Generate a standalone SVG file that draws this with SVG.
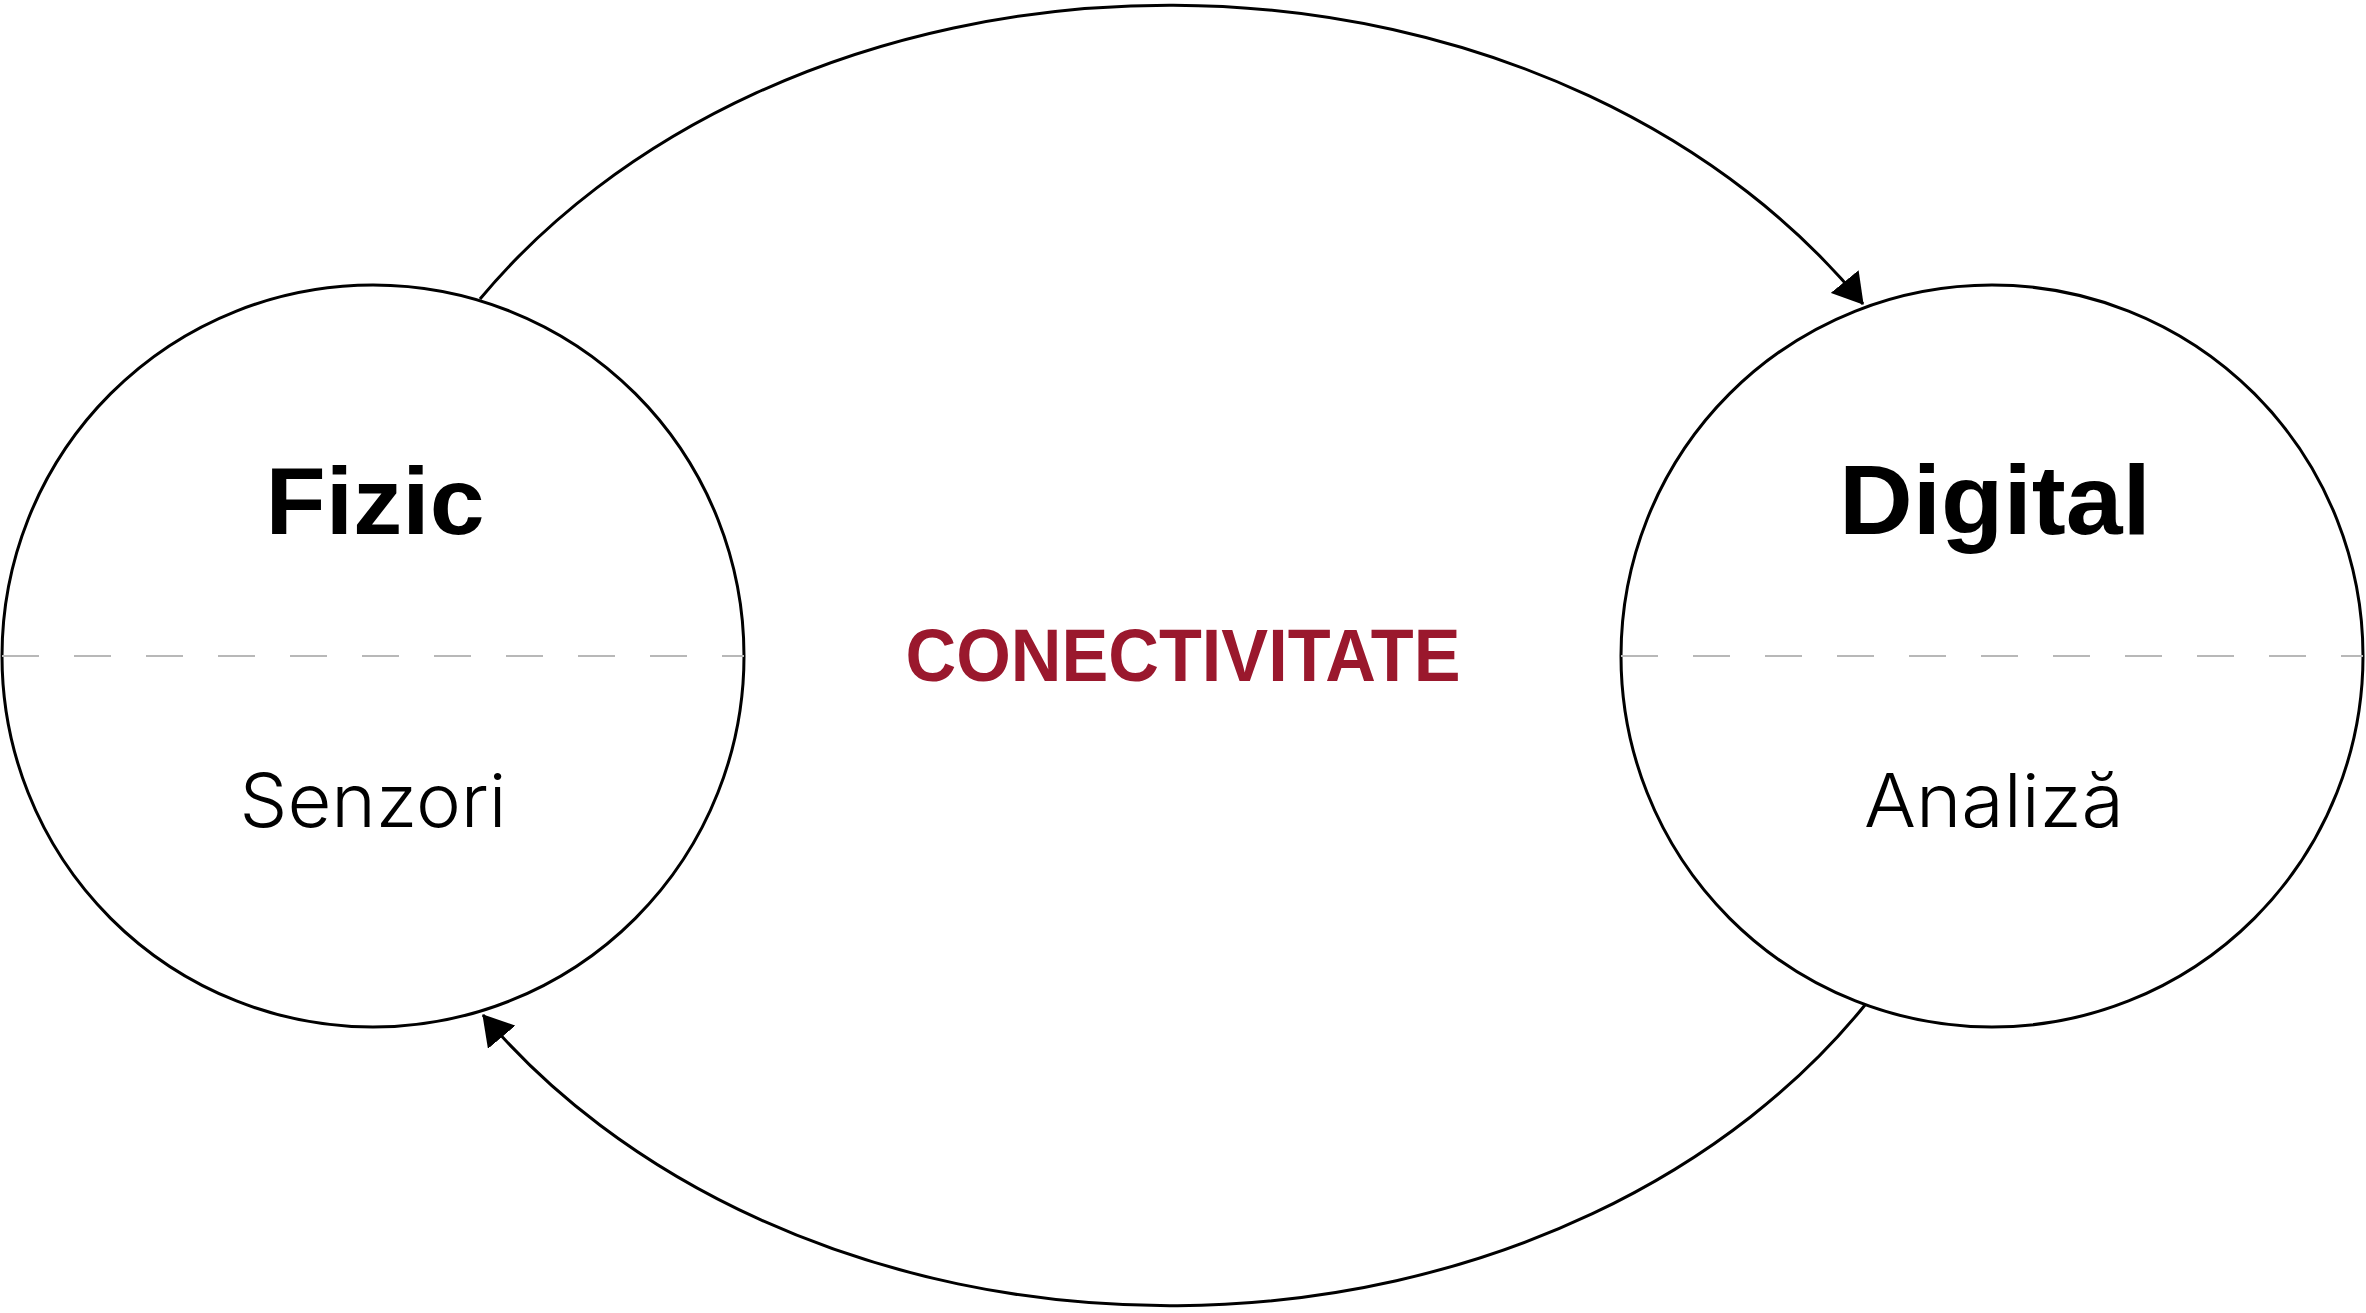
<svg xmlns="http://www.w3.org/2000/svg" width="2366" height="1313" viewBox="0 0 2366 1313">
<style>
.ring{fill:#fff;stroke:#000;stroke-width:3}
.mid{stroke:#b8b8b8;stroke-width:2;stroke-dasharray:37 35;fill:none}
.title{font-family:"Liberation Sans",Arial,sans-serif;font-weight:bold;fill:#000;text-anchor:middle}
.sub{font-family:"Inter Light","Roboto Light","Lato Light","Open Sans Light",Inter,"Liberation Sans",sans-serif;font-weight:300;fill:#000;text-anchor:middle}
.conn{fill:none;stroke:#000;stroke-width:3}
.center{font-family:"Liberation Sans",Arial,sans-serif;font-weight:bold;fill:#9a182d;text-anchor:middle}
</style>
<defs>
<marker id="arrow" markerUnits="userSpaceOnUse" viewBox="0 0 30 36" markerWidth="30" markerHeight="36" refX="29" refY="18" orient="auto">
<path d="M0,0 L30,18 L0,36 z" fill="#000"/>
</marker>
</defs>
<rect width="2366" height="1313" fill="#fff"/>
<g id="connectors">
<path class="conn" d="M 480 299 A 826 654 0 0 1 1863 304" marker-end="url(#arrow)"/>
<path class="conn" d="M 1865 1005 A 826 654 0 0 1 483 1015" marker-end="url(#arrow)"/>
</g>
<g id="node-fizic">
<circle class="ring" cx="373" cy="656" r="371"/>
<line class="mid" x1="2" y1="656" x2="744" y2="656"/>
<text class="title" x="375" y="534" font-size="95" textLength="219" lengthAdjust="spacingAndGlyphs">Fizic</text>
<text class="sub" x="373" y="827" font-size="74" textLength="267" lengthAdjust="spacingAndGlyphs">Senzori</text>
</g>
<g id="node-digital">
<circle class="ring" cx="1992" cy="656" r="371"/>
<line class="mid" x1="1621" y1="656" x2="2363" y2="656"/>
<text class="title" x="1995" y="534" font-size="98" textLength="312" lengthAdjust="spacingAndGlyphs">Digital</text>
<text class="sub" x="1994" y="827" font-size="74" textLength="260" lengthAdjust="spacingAndGlyphs">Analiză</text>
</g>
<g id="label-conectivitate">
<text class="center" x="1183" y="681" font-size="74" textLength="555" lengthAdjust="spacingAndGlyphs">CONECTIVITATE</text>
</g>
</svg>
